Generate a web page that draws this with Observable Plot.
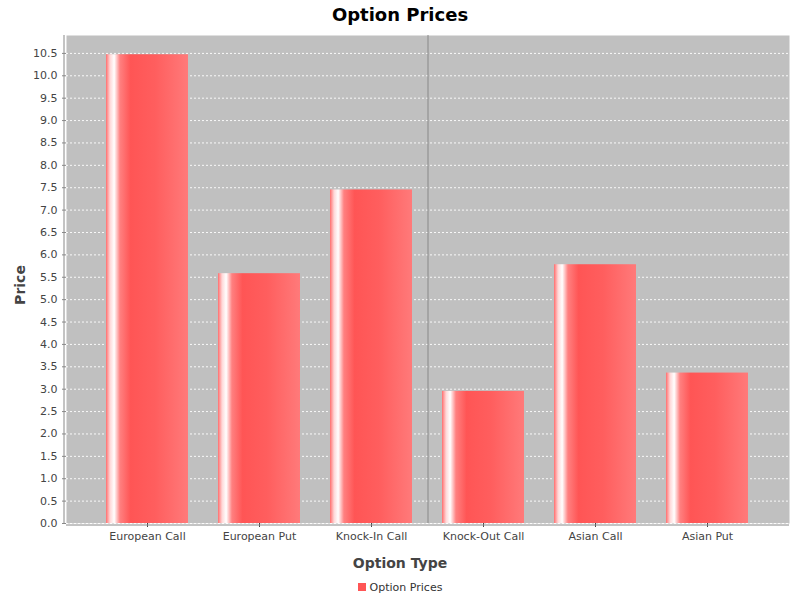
<!DOCTYPE html>
<html><head>
<script src="https://cdn.jsdelivr.net/npm/d3@7"></script>
<script src="https://cdn.jsdelivr.net/npm/@observablehq/plot@0.6"></script>
<style>
body{margin:0;background:#fff;font-family:"DejaVu Sans",sans-serif;width:800px}
#title{height:30px;line-height:30px;text-align:center;font-weight:bold;font-size:18px}
#legend{text-align:center;font-size:11px;color:#333;margin-top:6px}
#legend span.sw{display:inline-block;width:8px;height:8px;background:#ff5555;margin-right:4px;vertical-align:-0px}
</style></head><body>
<div id="title">Option Prices</div>
<div id="chart"></div>
<div id="legend"><span class="sw"></span>Option Prices</div>
<script>
const categories=["European Call","European Put","Knock-In Call","Knock-Out Call","Asian Call","Asian Put"];
const prices=[10.47,5.58,7.45,2.95,5.78,3.36];
const yTicks=d3.range(0,10.51,0.5);
const data=categories.map((c,i)=>({type:c,price:prices[i]}));
const plot=Plot.plot({
  width:800,height:545,marginTop:5,marginBottom:52,marginLeft:66,marginRight:11,
  style:{fontFamily:"DejaVu Sans",fontSize:"11px",color:"#444",background:"#fff"},
  x:{domain:categories,paddingInner:0.265,paddingOuter:0.334,label:null,tickSize:4},
  y:{domain:[0,10.9],ticks:yTicks,tickFormat:d=>d.toFixed(1),label:null,tickSize:4},
  marks:[
    Plot.frame({fill:"#c0c0c0",stroke:null}),
    Plot.gridY(yTicks,{stroke:"#fff",strokeOpacity:0.9,strokeDasharray:"2,2"}),
    Plot.barY(data,{x:"type",y:"price",fill:"url(#barg)"}),
    Plot.ruleX([0],{frameAnchor:"left",x:null,stroke:"#888"}),
    Plot.axisY({ticks:yTicks,tickFormat:d=>d.toFixed(1),tickSize:4,label:null,stroke:"#888"}),
    Plot.axisX({tickSize:4,label:null,tickPadding:5})
  ]
});
const svg=d3.select(plot);
const defs=svg.insert("defs",":first-child");
const g=defs.append("linearGradient").attr("id","barg").attr("x1","0").attr("x2","1").attr("y1","0").attr("y2","0");
[[0,"#ff6e6e"],[0.05,"#ffd8d8"],[0.1,"#ffffff"],[0.17,"#ff8080"],[0.3,"#ff5555"],[0.6,"#ff5e5e"],[1,"#ff7a7a"]].forEach(([o,c])=>g.append("stop").attr("offset",o).attr("stop-color",c));
// axis lines
svg.append("line").attr("x1",64).attr("x2",64).attr("y1",5).attr("y2",493).attr("stroke","#888");
svg.append("line").attr("x1",66).attr("x2",789).attr("y1",495).attr("y2",495).attr("stroke","#888");
svg.append("text").attr("x",400).attr("y",538).attr("text-anchor","middle").attr("font-size",14).attr("font-weight","bold").attr("fill","#444").text("Option Type");
svg.append("text").attr("transform","translate(25,255) rotate(-90)").attr("text-anchor","middle").attr("font-size",14).attr("font-weight","bold").attr("fill","#444").text("Price");
document.getElementById("chart").appendChild(plot);
</script>
</body></html>
